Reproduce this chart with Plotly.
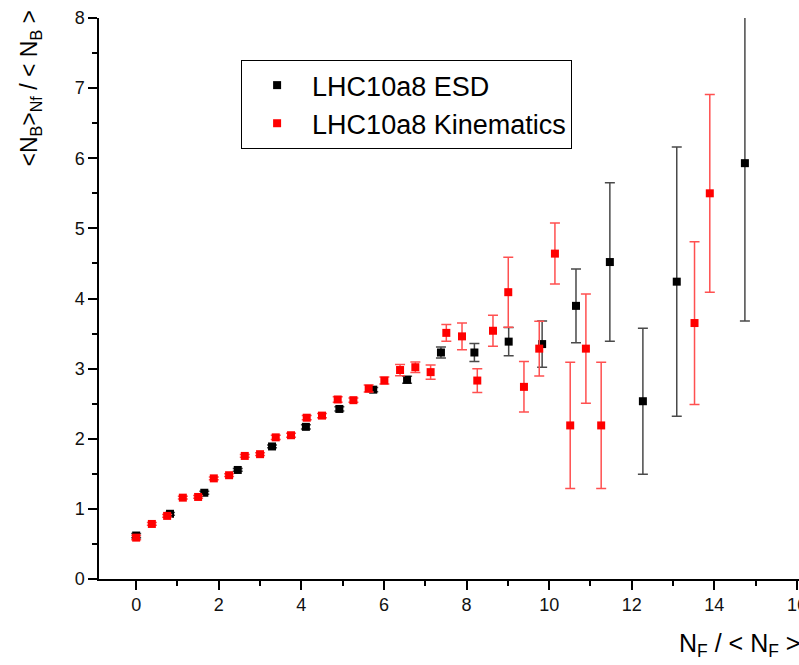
import plotly.graph_objects as go

# LHC10a8 ESD (black)
esd_x = [0.0, 0.82, 1.65, 2.46, 3.29, 4.11, 4.92, 5.74, 6.56, 7.38, 8.19, 9.02, 9.83, 10.65, 11.47, 12.27, 13.09, 14.74]
esd_y = [0.62, 0.93, 1.23, 1.555, 1.89, 2.17, 2.425, 2.70, 2.84, 3.23, 3.23, 3.385, 3.35, 3.895, 4.52, 2.535, 4.24, 5.93]
esd_err = [0.03, 0.02, 0.02, 0.02, 0.02, 0.03, 0.03, 0.03, 0.05, 0.08, 0.13, 0.20, 0.33, 0.525, 1.13, 1.04, 1.92, 2.25]

# LHC10a8 Kinematics (red)
kin_x = [0.0, 0.38, 0.75, 1.13, 1.50, 1.88, 2.25, 2.63, 3.00, 3.38, 3.75, 4.13, 4.50, 4.88, 5.26,
         5.63, 6.01, 6.39, 6.76, 7.13, 7.51, 7.89, 8.26, 8.64, 9.01, 9.39, 9.76, 10.14, 10.51, 10.89,
         11.26, 13.52, 13.89]
kin_y = [0.59, 0.785, 0.90, 1.16, 1.17, 1.435, 1.48, 1.755, 1.78, 2.02, 2.05, 2.30, 2.33, 2.56, 2.55,
         2.715, 2.83, 2.98, 3.02, 2.95, 3.51, 3.46, 2.83, 3.54, 4.09, 2.74, 3.285, 4.64, 2.19, 3.285,
         2.19, 3.65, 5.50]
kin_err = [0.03, 0.02, 0.02, 0.02, 0.02, 0.02, 0.02, 0.02, 0.02, 0.03, 0.03, 0.03, 0.03, 0.04, 0.03,
           0.05, 0.05, 0.08, 0.075, 0.10, 0.12, 0.19, 0.17, 0.22, 0.50, 0.36, 0.39, 0.435, 0.90, 0.78,
           0.90, 1.16, 1.41]

x_ticks = [0, 2, 4, 6, 8, 10, 12, 14, 16]
y_ticks = [0, 1, 2, 3, 4, 5, 6, 7, 8]

FONT = "Liberation Sans, Arial, sans-serif"

fig = go.Figure()
fig.add_trace(go.Scatter(
    x=esd_x, y=esd_y, mode="markers", name="LHC10a8 ESD",
    marker=dict(symbol="square", size=8, color="black"),
    error_y=dict(type="data", array=esd_err, visible=True, color="#4a4a4a", thickness=1.5, width=5),
))
fig.add_trace(go.Scatter(
    x=kin_x, y=kin_y, mode="markers", name="LHC10a8 Kinematics",
    marker=dict(symbol="square", size=8, color="#ff0000"),
    error_y=dict(type="data", array=kin_err, visible=True, color="#ff5050", thickness=1.5, width=5),
))

fig.update_layout(
    width=799, height=665,
    margin=dict(l=99, r=0, t=18, b=86, autoexpand=False),
    paper_bgcolor="white", plot_bgcolor="white",
    font=dict(family=FONT, size=18, color="black"),
    showlegend=True,
    legend=dict(
        x=0.203, y=0.925, xanchor="left", yanchor="top",
        bordercolor="black", borderwidth=1, bgcolor="white",
        font=dict(family=FONT, size=27, color="black"),
        traceorder="normal",
        itemwidth=60, itemsizing="trace",
    ),
    xaxis=dict(
        range=[-0.9, 16.05], showgrid=False, zeroline=False, automargin=False,
        showline=True, linecolor="black", linewidth=1.5,
        tickmode="array", tickvals=x_ticks, ticktext=[str(v) for v in x_ticks],
        ticks="outside", ticklen=9, tickwidth=1.5, tickcolor="black",
        ticklabeloverflow="allow",
        minor=dict(dtick=1, tick0=0, ticks="outside", ticklen=5, tickwidth=1.5, tickcolor="black", showgrid=False),
        tickfont=dict(family=FONT, size=18, color="#111"),
    ),
    yaxis=dict(
        range=[0, 8], showgrid=False, zeroline=False, automargin=False,
        showline=True, linecolor="black", linewidth=1.5,
        tickmode="array", tickvals=y_ticks, ticktext=[str(v) for v in y_ticks],
        ticks="outside", ticklen=9, tickwidth=1.5, tickcolor="black",
        minor=dict(dtick=0.5, tick0=0, ticks="outside", ticklen=5, tickwidth=1.5, tickcolor="black", showgrid=False),
        tickfont=dict(family=FONT, size=18, color="#111"),
    ),
    annotations=[
        dict(text="&lt;N<sub>B</sub>&gt;<sub>Nf</sub> / &lt; N<sub>B</sub> &gt;",
             xref="paper", yref="paper", x=-0.098, y=0.875, xanchor="center", yanchor="middle",
             textangle=-90, showarrow=False, font=dict(family=FONT, size=23, color="black")),
        dict(text="N<sub>F</sub> / &lt; N<sub>F</sub> &gt;",
             xref="paper", yref="paper", x=0.826, y=-0.118, xanchor="left", yanchor="middle",
             showarrow=False, font=dict(family=FONT, size=25, color="black")),
    ],
)

fig.write_html("out.html")
